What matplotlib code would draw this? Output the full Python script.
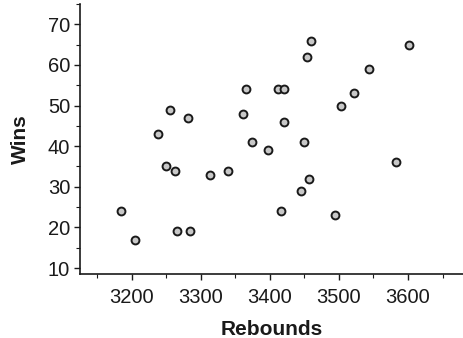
import matplotlib
matplotlib.use("Agg")
import matplotlib.pyplot as plt
from matplotlib.ticker import MultipleLocator

plt.rcParams['font.family'] = ['Liberation Sans', 'DejaVu Sans']

rebounds = [3184, 3205, 3238, 3255, 3282, 3250, 3263, 3265, 3284, 3313,
            3339, 3365, 3361, 3374, 3397, 3460, 3454, 3601, 3544, 3412,
            3420, 3522, 3503, 3420, 3449, 3582, 3456, 3445, 3416, 3495]
wins = [24, 17, 43, 49, 47, 35, 34, 19, 19, 33,
        34, 54, 48, 41, 39, 66, 62, 65, 59, 54,
        54, 53, 50, 46, 41, 36, 32, 29, 24, 23]
xticks = [3200, 3300, 3400, 3500, 3600]
yticks = [10, 20, 30, 40, 50, 60, 70]

fig = plt.figure(figsize=(4.64, 3.38), dpi=100)
ax = fig.add_axes([0.172, 0.189, 0.828, 0.799])

ax.scatter(rebounds, wins, s=32, facecolor='#c8c8c8', edgecolor='#1a1a1a',
           linewidth=1.4, zorder=3)

ax.set_xlim(3125, 3681)
ax.set_ylim(8.5, 75)
ax.set_xticks(xticks)
ax.set_yticks(yticks)
ax.xaxis.set_minor_locator(MultipleLocator(50))
ax.yaxis.set_minor_locator(MultipleLocator(5))

for s in ['top', 'right']:
    ax.spines[s].set_visible(False)
for s in ['left', 'bottom']:
    ax.spines[s].set_linewidth(1.2)
    ax.spines[s].set_color('#1a1a1a')

ax.tick_params(axis='both', which='major', length=4, width=1, color='#1a1a1a',
               labelsize=14.5, labelcolor='#1a1a1a')
ax.tick_params(axis='x', which='major', pad=6)
ax.tick_params(axis='y', which='major', pad=3)
ax.tick_params(axis='both', which='minor', length=3, width=0.8, color='#1a1a1a')

ax.set_xlabel('Rebounds', fontsize=15, fontweight='bold', color='#1a1a1a', labelpad=9)
ax.set_ylabel('Wins', fontsize=15, fontweight='bold', color='#1a1a1a', labelpad=13)

fig.savefig('out.png', dpi=100)
